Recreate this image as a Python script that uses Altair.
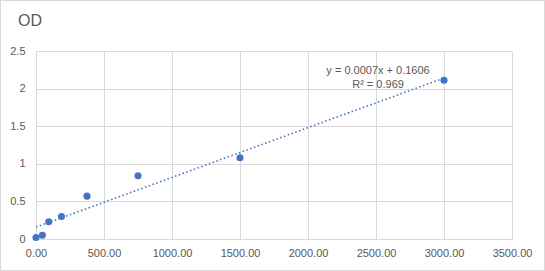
import altair as alt
import pandas as pd

conc = [0, 46.875, 93.75, 187.5, 375, 750, 1500, 3000]
od = [0.02, 0.05, 0.23, 0.30, 0.57, 0.84, 1.08, 2.11]
eq_lines = ["y = 0.0007x + 0.1606", "R² = 0.969"]
x_ticks = [0, 500, 1000, 1500, 2000, 2500, 3000, 3500]
y_ticks = [0, 0.5, 1, 1.5, 2, 2.5]

df = pd.DataFrame({"conc": conc, "od": od})
eq_df = pd.DataFrame({"conc": [2515, 2515], "od": [2.235, 2.054], "t": eq_lines})

W, H = 476, 188
FONT = "Liberation Sans"
GRAY = "#595959"
BLUE = "#4472C4"

xs = alt.Scale(domain=[0, 3500], nice=False, zero=True)
ys = alt.Scale(domain=[0, 2.5], nice=False, zero=True)

xax = alt.Axis(values=x_ticks, format=".2f", title=None, grid=True, gridColor="#d9d9d9",
               domainColor="#d9d9d9", ticks=False, labelPadding=8, labelColor=GRAY,
               labelFontSize=11, labelFont=FONT, labelFlush=False, labelOverlap=False)
yax = alt.Axis(values=y_ticks, format="~g", title=None, grid=True,
               gridColor="#d9d9d9", domain=False, ticks=False, labelPadding=11,
               labelColor=GRAY, labelFontSize=11, labelFont=FONT, labelFlush=False,
               labelOverlap=False)

X = alt.X("conc:Q", scale=xs, axis=xax)
Y = alt.Y("od:Q", scale=ys, axis=yax)

base = alt.Chart(df)

trend = base.transform_regression("conc", "od", extent=[0, 3000]).mark_line(
    color=BLUE, strokeDash=[1.5, 2.5], strokeWidth=1.6
).encode(x=X, y=Y)

pts = base.mark_circle(size=50, color=BLUE, opacity=1).encode(x=X, y=Y)

eq = alt.Chart(eq_df).mark_text(font=FONT, fontSize=11, color=GRAY, align="center",
                                baseline="middle").encode(x=X, y=Y, text="t:N")

frame = alt.Chart(df).mark_rect(fill=None, stroke="#d9d9d9", strokeWidth=1, clip=False).encode(
    x=alt.value(-35.5), x2=alt.value(W + 32.5), y=alt.value(-50.5), y2=alt.value(H + 31.5)
)

title = alt.Chart(pd.DataFrame({"t": ["OD"]})).mark_text(
    font=FONT, fontSize=16, color=GRAY, align="left", baseline="alphabetic"
).encode(x=alt.value(-18), y=alt.value(-25), text="t:N")

chart = alt.layer(trend, pts, eq, frame, title).properties(
    width=W, height=H,
    autosize=alt.AutoSizeParams(type="none"),
    padding={"left": 36, "top": 51, "right": 33, "bottom": 32},
).configure_view(stroke=None)

chart.save("out.html", embed_options={"renderer": "svg", "actions": False})
